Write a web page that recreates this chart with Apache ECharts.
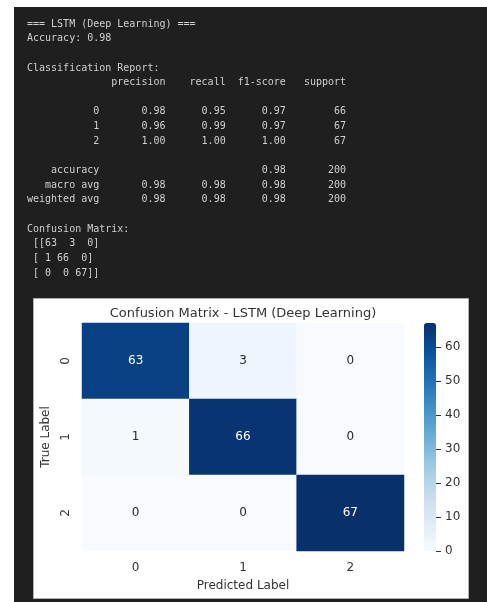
<!DOCTYPE html>
<html>
<head>
<meta charset="utf-8">
<title>LSTM confusion matrix</title>
<script src="https://cdn.jsdelivr.net/npm/echarts@6/dist/echarts.min.js"></script>
<style>
  html, body { margin: 0; padding: 0; background: #ffffff; }
  #chart { width: 487px; height: 602px; }
</style>
</head>
<body>
<div id="chart"></div>
<script>
// ---- model evaluation results ----
const modelName = 'LSTM (Deep Learning)';
const accuracy = 0.98;
const classes = ['0', '1', '2'];
const precision = [0.98, 0.96, 1.00];
const recall = [0.95, 0.99, 1.00];
const f1Score = [0.97, 0.97, 1.00];
const support = [66, 67, 67];
const macroAvg = [0.98, 0.98, 0.98];
const weightedAvg = [0.98, 0.98, 0.98];
const totalSupport = 200;
const confusion = [
  [63, 3, 0],
  [1, 66, 0],
  [0, 0, 67]
];
const colorbarTicks = [0, 10, 20, 30, 40, 50, 60];
// matplotlib "Blues" colormap stops
const blues = ['#f7fbff', '#deebf7', '#c6dbef', '#9ecae1', '#6baed6', '#4292c6', '#2171b5', '#08519c', '#08306b'];

// ---- text report, laid out like sklearn / numpy console output ----
const pad = (s, w) => String(s).padStart(w, ' ');
const f2 = v => v.toFixed(2);
const W = 12;
const reportLines = [
  '=== ' + modelName + ' ===',
  'Accuracy: ' + f2(accuracy),
  '',
  'Classification Report:',
  pad('', W) + ' ' + ' ' + pad('precision', 9) + ' ' + pad('recall', 9) + ' ' + pad('f1-score', 9) + ' ' + pad('support', 9),
  ''
];
classes.forEach((c, i) => {
  reportLines.push(pad(c, W) + ' ' + ' ' + pad(f2(precision[i]), 9) + ' ' + pad(f2(recall[i]), 9) + ' ' +
    pad(f2(f1Score[i]), 9) + ' ' + pad(support[i], 9));
});
reportLines.push('');
reportLines.push(pad('accuracy', W) + ' ' + ' ' + pad('', 9) + ' ' + pad('', 9) + ' ' + pad(f2(accuracy), 9) + ' ' + pad(totalSupport, 9));
reportLines.push(pad('macro avg', W) + ' ' + macroAvg.map(v => ' ' + pad(f2(v), 9)).join('') + ' ' + pad(totalSupport, 9));
reportLines.push(pad('weighted avg', W) + ' ' + weightedAvg.map(v => ' ' + pad(f2(v), 9)).join('') + ' ' + pad(totalSupport, 9));
reportLines.push('');
reportLines.push('Confusion Matrix:');
confusion.forEach((row, i) => {
  const open = i === 0 ? ' [[' : ' [';
  const close = i === confusion.length - 1 ? ']]' : ']';
  reportLines.push(open + row.map(v => pad(v, 2)).join(' ') + close);
});

const consoleText = reportLines.map((line, i) => ({
  type: 'text',
  x: 27,
  y: 24 + i * 14.65,
  silent: true,
  style: {
    text: line,
    font: '10px "DejaVu Sans Mono"',
    fill: '#d0d0d0',
    verticalAlign: 'middle'
  }
}));

// ---- heatmap data ----
const heatData = [];
confusion.forEach((row, r) => {
  row.forEach((v, c) => {
    heatData.push({
      value: [c, r, v],
      label: { color: v > 33 ? '#ffffff' : '#262626' }
    });
  });
});
const cMax = Math.max(...confusion.flat());

const ink = '#333333';
const chart = echarts.init(document.getElementById('chart'), null, { renderer: 'canvas' });
chart.setOption({
  animation: false,
  backgroundColor: '#ffffff',
  textStyle: { fontFamily: '"DejaVu Sans"' },
  graphic: [
    { type: 'rect', z: -10, silent: true, shape: { x: 14, y: 7, width: 473, height: 595 }, style: { fill: '#1f1f1f' } },
    { type: 'rect', z: -9, silent: true, shape: { x: 33.5, y: 298.5, width: 435, height: 300 }, style: { fill: '#ffffff', stroke: '#b0b0b0', lineWidth: 1 } },
    ...consoleText
  ],
  title: {
    text: 'Confusion Matrix - ' + modelName,
    left: 243,
    textAlign: 'center',
    top: 307,
    padding: 0,
    textStyle: { fontSize: 13, fontWeight: 'normal', color: ink, fontFamily: '"DejaVu Sans"' }
  },
  grid: [
    { left: 82, top: 323, width: 322, height: 228 },
    { left: 424, top: 323, width: 12, height: 228 }
  ],
  xAxis: [
    {
      gridIndex: 0, type: 'category', data: classes, position: 'bottom',
      axisLine: { show: false }, axisTick: { show: false }, splitLine: { show: false },
      axisLabel: { color: ink, fontSize: 12, margin: 11 },
      name: 'Predicted Label', nameLocation: 'middle', nameGap: 29,
      nameTextStyle: { color: ink, fontSize: 12 }
    },
    { gridIndex: 1, type: 'value', show: false, min: 0, max: 1 }
  ],
  yAxis: [
    {
      gridIndex: 0, type: 'category', data: classes, inverse: true,
      axisLine: { show: false }, axisTick: { show: false }, splitLine: { show: false },
      axisLabel: { color: ink, fontSize: 12, margin: 10, rotate: 90 },
      name: 'True Label', nameLocation: 'middle', nameGap: 27, nameRotate: 90,
      nameTextStyle: { color: ink, fontSize: 12 }
    },
    {
      // colorbar scale, drawn on the right edge of the gradient bar
      gridIndex: 1, type: 'value', min: 0, max: cMax, position: 'right', z: 20,
      axisLine: { show: false, onZero: false }, splitLine: { show: false },
      axisTick: { show: true, inside: false, length: 5, customValues: colorbarTicks, lineStyle: { color: ink, width: 1 } },
      axisLabel: { color: ink, fontSize: 12, margin: 9, customValues: colorbarTicks }
    }
  ],
  visualMap: {
    type: 'continuous',
    seriesIndex: 0,
    min: 0,
    max: cMax,
    calculable: false,
    orient: 'vertical',
    left: 424,
    top: 323,
    padding: 0,
    itemWidth: 12,
    itemHeight: 228,
    text: null,
    showLabel: false,
    inRange: { color: blues }
  },
  series: [
    {
      type: 'heatmap',
      xAxisIndex: 0,
      yAxisIndex: 0,
      data: heatData,
      label: { show: true, fontSize: 12, fontFamily: '"DejaVu Sans"' },
      itemStyle: { borderWidth: 0 },
      emphasis: { disabled: true }
    }
  ]
});
</script>
</body>
</html>
